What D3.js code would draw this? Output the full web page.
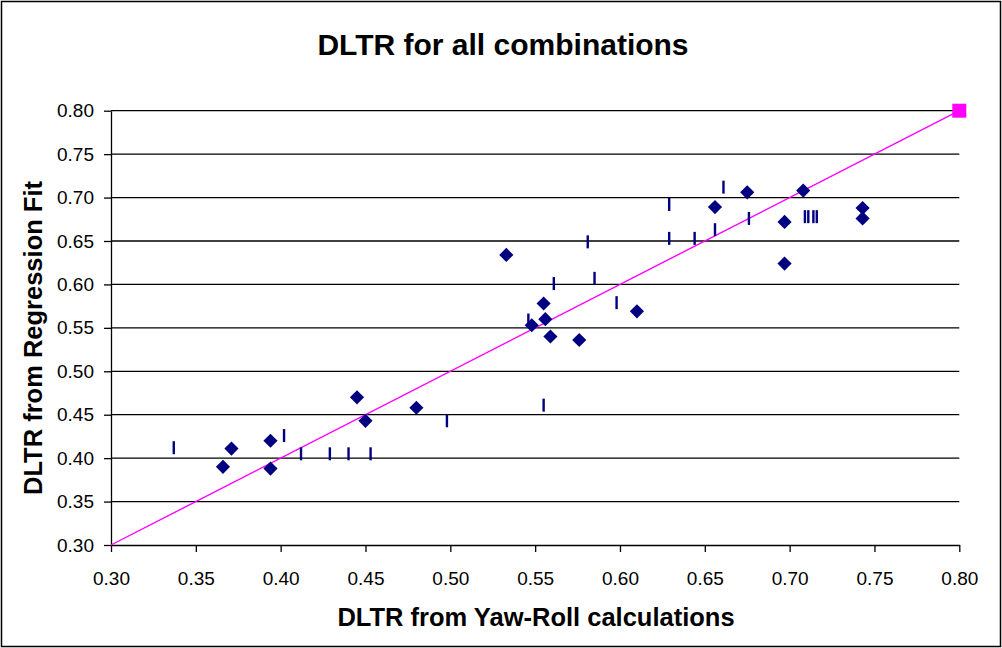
<!DOCTYPE html>
<html>
<head>
<meta charset="utf-8">
<script src="https://cdn.jsdelivr.net/npm/d3@7"></script>
<style>
  html, body { margin: 0; padding: 0; background: #fff; }
  svg { display: block; font-family: "Liberation Sans", Arial, sans-serif; }
</style>
</head>
<body>
<svg id="chart" width="1002" height="648"></svg>
<script>
// Regression-fit DLTR vs. yaw-roll DLTR: diamond series
const diamondX = [0.366, 0.371, 0.394, 0.394, 0.445, 0.450, 0.480, 0.533, 0.548, 0.555, 0.556,
                  0.559, 0.576, 0.610, 0.656, 0.675, 0.697, 0.697, 0.708, 0.743, 0.743];
const diamondY = [0.390, 0.411, 0.420, 0.388, 0.470, 0.443, 0.458, 0.634, 0.553, 0.578, 0.560,
                  0.540, 0.536, 0.569, 0.689, 0.706, 0.672, 0.624, 0.708, 0.688, 0.676];

// Second series drawn with a vertical dash marker
const dashX = [0.337, 0.402, 0.412, 0.429, 0.440, 0.453, 0.498, 0.546, 0.555, 0.561, 0.581, 0.585,
               0.598, 0.629, 0.629, 0.644, 0.656, 0.661, 0.676, 0.709, 0.711, 0.714, 0.716];
const dashY = [0.412, 0.426, 0.405, 0.405, 0.405, 0.405, 0.443, 0.559, 0.461, 0.601, 0.649, 0.607,
               0.579, 0.692, 0.653, 0.653, 0.663, 0.712, 0.676, 0.678, 0.678, 0.678, 0.678];

// 1:1 reference line
const unityX = [0.30, 0.80];
const unityY = [0.30, 0.80];

const tickValues = [0.30, 0.35, 0.40, 0.45, 0.50, 0.55, 0.60, 0.65, 0.70, 0.75, 0.80];

const titleText = "DLTR for all combinations";
const xLabelText = "DLTR from Yaw-Roll calculations";
const yLabelText = "DLTR from Regression Fit";

const navy = "#000080";
const magenta = "#FF00FF";

const svg = d3.select("#chart");
const W = 1002, H = 648;
const plot = { left: 111, right: 959.3, top: 110.7, bottom: 545 };

// outer frame
svg.append("rect")
  .attr("x", 1.5).attr("y", 1.5)
  .attr("width", W - 3).attr("height", H - 3)
  .attr("fill", "#fff").attr("stroke", "#000").attr("stroke-width", 1.5);

const x = d3.scaleLinear().domain([0.30, 0.80]).range([plot.left, plot.right]);
const y = d3.scaleLinear().domain([0.30, 0.80]).range([plot.bottom, plot.top]);

// horizontal gridlines
svg.append("g")
  .selectAll("line")
  .data(tickValues.slice(1))
  .join("line")
  .attr("x1", plot.left).attr("x2", plot.right)
  .attr("y1", d => y(d)).attr("y2", d => y(d))
  .attr("stroke", "#000").attr("stroke-width", 1.3);

const fmt = d3.format(".2f");

// x axis
const xAxis = svg.append("g")
  .attr("transform", `translate(0,${plot.bottom})`)
  .call(d3.axisBottom(x).tickValues(tickValues).tickFormat(fmt).tickSizeInner(7).tickSizeOuter(0).tickPadding(20));
xAxis.select(".domain").attr("stroke", "#000").attr("stroke-width", 1.3);
xAxis.selectAll(".tick line").attr("stroke", "#000").attr("stroke-width", 1.3);
xAxis.selectAll(".tick text")
  .attr("font-family", "Liberation Sans, Arial, sans-serif")
  .attr("font-size", 19).attr("fill", "#000");

// y axis
const yAxis = svg.append("g")
  .attr("transform", `translate(${plot.left},0)`)
  .call(d3.axisLeft(y).tickValues(tickValues).tickFormat(fmt).tickSizeInner(7).tickSizeOuter(0).tickPadding(10));
yAxis.select(".domain").attr("stroke", "#000").attr("stroke-width", 1.3);
yAxis.selectAll(".tick line").attr("stroke", "#000").attr("stroke-width", 1.3);
yAxis.selectAll(".tick text")
  .attr("font-family", "Liberation Sans, Arial, sans-serif")
  .attr("font-size", 19).attr("fill", "#000");

// 1:1 line with end marker
const unity = unityX.map((v, i) => [v, unityY[i]]);
svg.append("path")
  .datum(unity)
  .attr("d", d3.line().x(d => x(d[0])).y(d => y(d[1])))
  .attr("fill", "none").attr("stroke", magenta).attr("stroke-width", 1.4);
const last = unity[unity.length - 1];
svg.append("rect")
  .attr("x", x(last[0]) - 7).attr("y", y(last[1]) - 7)
  .attr("width", 14).attr("height", 14)
  .attr("fill", magenta);

// dash markers
svg.append("g")
  .selectAll("rect")
  .data(dashX.map((v, i) => [v, dashY[i]]))
  .join("rect")
  .attr("x", d => x(d[0]) - 1.2).attr("y", d => y(d[1]) - 6.5)
  .attr("width", 2.4).attr("height", 13)
  .attr("fill", navy);

// diamond markers
const diamond = d3.symbol().type(d3.symbolDiamond2).size(128);
svg.append("g")
  .selectAll("path")
  .data(diamondX.map((v, i) => [v, diamondY[i]]))
  .join("path")
  .attr("transform", d => `translate(${x(d[0])},${y(d[1])})`)
  .attr("d", diamond)
  .attr("fill", navy);

// titles
svg.append("text")
  .attr("x", 503).attr("y", 54.5)
  .attr("text-anchor", "middle")
  .attr("font-size", 30).attr("font-weight", "bold")
  .text(titleText);

svg.append("text")
  .attr("x", 536).attr("y", 626)
  .attr("text-anchor", "middle")
  .attr("font-size", 25.5).attr("font-weight", "bold")
  .text(xLabelText);

svg.append("text")
  .attr("transform", `translate(42,338) rotate(-90)`)
  .attr("text-anchor", "middle")
  .attr("font-size", 25.5).attr("font-weight", "bold")
  .text(yLabelText);
</script>
</body>
</html>
